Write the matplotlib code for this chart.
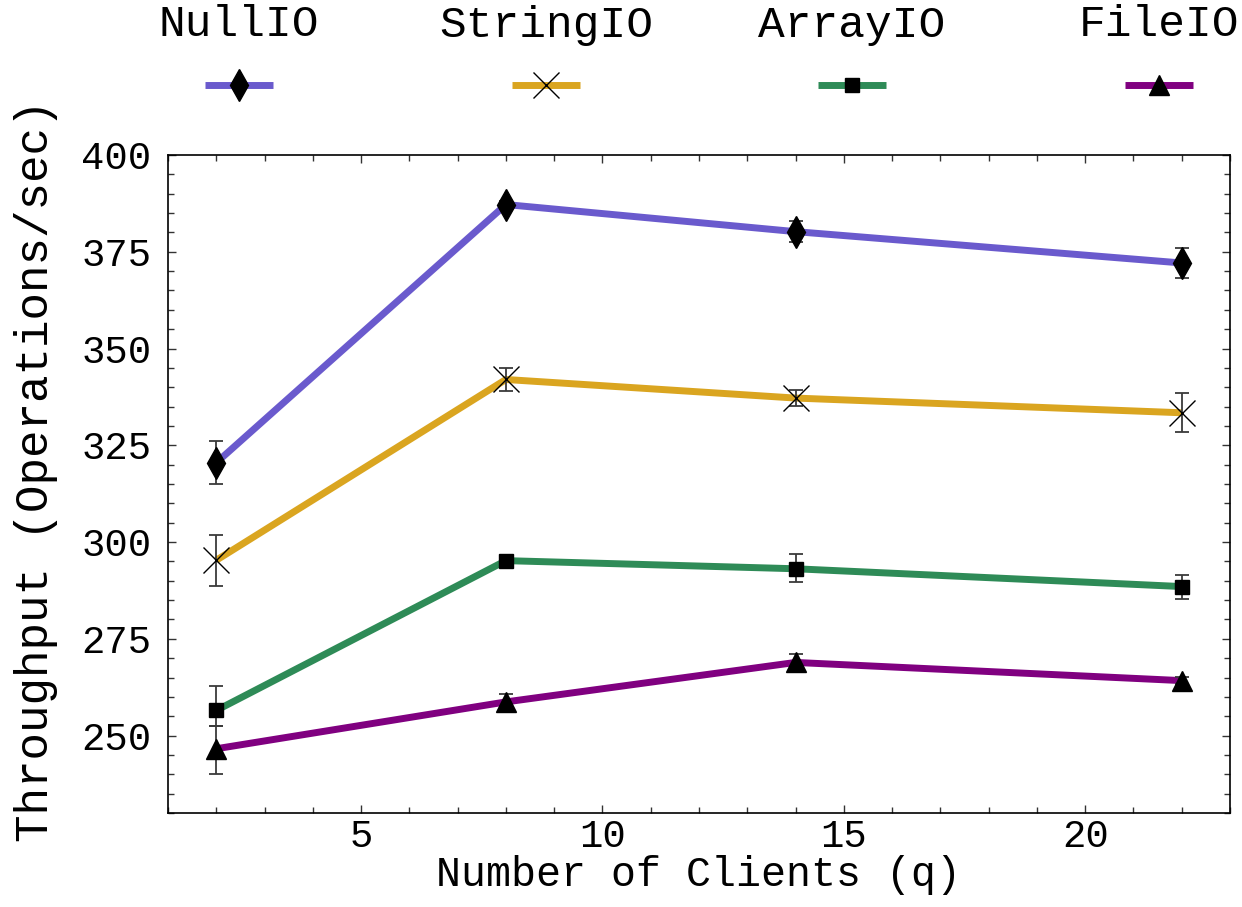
import numpy as np
import matplotlib.pyplot as plt
from matplotlib.lines import Line2D
from matplotlib.ticker import MultipleLocator

clients = [2, 8, 14, 22]
names = ["NullIO", "StringIO", "ArrayIO", "FileIO"]
null_io = [320.5, 387.2, 380.2, 372.1]
null_err = [5.6, 1.0, 2.8, 3.8]
string_io = [295.3, 342.0, 337.2, 333.4]
string_err = [6.6, 2.9, 2.0, 5.0]
array_io = [256.5, 295.2, 293.1, 288.5]
array_lo = [252.4, 293.8, 289.7, 285.4]
array_hi = [262.7, 296.3, 296.8, 291.4]
file_io = [246.6, 258.7, 268.9, 264.2]
file_lo = [240.1, 256.7, 266.6, 263.2]
file_hi = [252.5, 260.8, 271.0, 265.2]

plt.rcParams['font.family'] = ['Liberation Mono', 'DejaVu Sans Mono']

colors = ["#6A5ACD", "#DAA520", "#2E8B57", "#800080"]
markers = ["d", "x", "s", "^"]
msizes = [16, 19, 9.5, 15]

series = [
    (null_io, [null_err, null_err]),
    (string_io, [string_err, string_err]),
    (array_io, [np.subtract(array_io, array_lo), np.subtract(array_hi, array_io)]),
    (file_io, [np.subtract(file_io, file_lo), np.subtract(file_hi, file_io)]),
]

fig = plt.figure(figsize=(12.42, 9.07), dpi=100)
ax = fig.add_axes([168 / 1242, 1 - 813 / 907, (1230 - 168) / 1242, (813 - 155) / 907])

for (vals, err), c, m, ms in zip(series, colors, markers, msizes):
    ax.plot(clients, vals, color=c, lw=5, zorder=2, solid_capstyle='butt')
    ax.errorbar(clients, vals, yerr=err, fmt='none', ecolor='#3a3a3a',
                elinewidth=1.3, capsize=5, capthick=1.3, zorder=3)
    ax.plot(clients, vals, ls='none', marker=m, ms=ms, mew=1.0, color='black', zorder=4)

ax.set_xlim(1, 23)
ax.set_ylim(230, 400)
ax.xaxis.set_major_locator(MultipleLocator(5))
ax.xaxis.set_minor_locator(MultipleLocator(1))
ax.yaxis.set_major_locator(MultipleLocator(25))
ax.yaxis.set_minor_locator(MultipleLocator(5))
ax.tick_params(which='both', direction='in', top=True, right=True, width=1, color='#333333')
ax.tick_params(which='major', length=6, labelsize=28)
ax.tick_params(which='minor', length=4)
ax.tick_params(axis='x', pad=4)
ax.tick_params(axis='y', pad=12)
for s in ax.spines.values():
    s.set_linewidth(1.2)

ax.set_xlabel("Number of Clients (q)", fontsize=30, labelpad=0)
ax.set_ylabel("Throughput (Operations/sec)", fontsize=33)
ax.yaxis.set_label_coords(-0.104, 0.52)

# legend on top: name above a line sample
centers = [239, 546, 852, 1159]
for name, c, m, ms, cx in zip(names, colors, markers, msizes, centers):
    fig.text(cx / 1242, 1 - 25 / 907, name, fontsize=32, ha='center', va='center')
    y = 1 - 85 / 907
    fig.add_artist(Line2D([(cx - 34) / 1242, (cx + 34) / 1242], [y, y], color=c, lw=5,
                          solid_capstyle='butt'))
    fig.add_artist(Line2D([cx / 1242], [y], ls='none', marker=m, ms=ms, color='black',
                          mew=1.0))

fig.savefig("out.png", dpi=100)
